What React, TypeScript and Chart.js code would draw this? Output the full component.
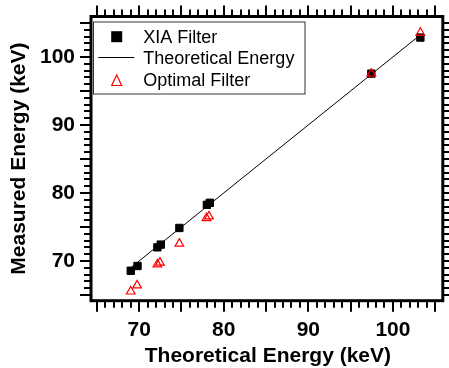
import React, { useEffect, useRef } from 'react';
import { Chart, registerables } from 'chart.js';

Chart.register(...registerables);

const X_TICKS = [70, 80, 90, 100];
const Y_TICKS = [70, 80, 90, 100];
const X_MIN = 64.3;
const X_MAX = 105.9;
const Y_MIN = 64.15;
const Y_MAX = 105.95;

const XIA_X = [69.0, 69.8, 72.15, 72.55, 74.75, 78.0, 78.35, 97.45, 103.25];
const XIA_Y = [68.55, 69.25, 72.0, 72.4, 74.85, 78.25, 78.55, 97.55, 102.85];

const OPT_X = [69.0, 69.75, 72.15, 72.45, 74.75, 77.95, 78.25, 97.45, 103.25];
const OPT_Y = [65.5, 66.4, 69.5, 69.75, 72.55, 76.3, 76.55, 97.55, 103.55];

const THEORY_X = [69.0, 103.2];
const THEORY_Y = [69.0, 103.2];

const LEGEND_LABELS = ['XIA Filter', 'Theoretical Energy', 'Optimal Filter'];
const X_TITLE = 'Theoretical Energy (keV)';
const Y_TITLE = 'Measured Energy (keV)';

const FONT = '"Liberation Sans", Arial, Helvetica, sans-serif';

const toPoints = (xs: number[], ys: number[]) => xs.map((x, i) => ({ x, y: ys[i] }));

const zeroPad = (axis: any) => {
  axis.paddingTop = 0;
  axis.paddingBottom = 0;
  axis.paddingLeft = 0;
  axis.paddingRight = 0;
};

const framePlugin = {
  id: 'frameTicksLegend',
  afterDraw(chart: any) {
    const { ctx, chartArea } = chart;
    const { left, right, top, bottom } = chartArea;
    const xs = chart.scales.x;
    const ys = chart.scales.y;
    ctx.save();
    ctx.strokeStyle = '#000';
    // ticks
    ctx.lineWidth = 2;
    ctx.beginPath();
    for (let v = Math.ceil(X_MIN); v <= Math.floor(X_MAX); v++) {
      const len = v % 5 === 0 ? 11 : 7;
      const px = Math.round(xs.getPixelForValue(v));
      ctx.moveTo(px, bottom);
      ctx.lineTo(px, bottom + len);
      ctx.moveTo(px, top);
      ctx.lineTo(px, top - len);
    }
    for (let v = Math.ceil(Y_MIN); v <= Math.floor(Y_MAX); v++) {
      const len = v % 5 === 0 ? 11 : 7;
      const py = Math.round(ys.getPixelForValue(v));
      ctx.moveTo(left, py);
      ctx.lineTo(left - len, py);
      ctx.moveTo(right, py);
      ctx.lineTo(right + len, py);
    }
    ctx.stroke();
    // frame
    ctx.lineWidth = 3;
    ctx.strokeRect(left, top, right - left, bottom - top);

    // legend
    const lx = 93.5, ly = 22, lw = 211.5, lh = 72;
    ctx.fillStyle = '#fff';
    ctx.fillRect(lx, ly, lw, lh);
    ctx.lineWidth = 1;
    ctx.strokeStyle = '#333';
    ctx.strokeRect(lx, ly, lw, lh);
    const symX = 116.7;
    const textX = 143.3;
    ctx.fillStyle = '#000';
    ctx.fillRect(symX - 5.5, 31.2, 11, 11);
    ctx.strokeStyle = '#000';
    ctx.beginPath();
    ctx.moveTo(98.3, 57.5);
    ctx.lineTo(134.3, 57.5);
    ctx.stroke();
    ctx.strokeStyle = '#ff0000';
    ctx.lineWidth = 1.2;
    ctx.beginPath();
    ctx.moveTo(symX, 75);
    ctx.lineTo(symX + 5, 85.5);
    ctx.lineTo(symX - 5, 85.5);
    ctx.closePath();
    ctx.stroke();
    ctx.fillStyle = '#000';
    ctx.font = `18px ${FONT}`;
    ctx.textAlign = 'left';
    ctx.textBaseline = 'alphabetic';
    ctx.fillText(LEGEND_LABELS[0], textX, 42.5);
    ctx.fillText(LEGEND_LABELS[1], textX, 64);
    ctx.fillText(LEGEND_LABELS[2], textX, 85.7);

    // axis titles
    ctx.font = `bold 21px ${FONT}`;
    ctx.textAlign = 'center';
    ctx.fillText(X_TITLE, (left + right) / 2 + 1, 361.5);
    ctx.translate(25, (top + bottom) / 2);
    ctx.rotate(-Math.PI / 2);
    ctx.fillText(Y_TITLE, 0, 0);
    ctx.restore();
  },
};

export default function App() {
  const ref = useRef<HTMLCanvasElement | null>(null);
  useEffect(() => {
    if (!ref.current) return;
    const chart = new Chart(ref.current, {
      type: 'scatter',
      data: {
        datasets: [
          {
            label: LEGEND_LABELS[2],
            data: toPoints(OPT_X, OPT_Y),
            pointStyle: 'triangle',
            pointRadius: 5,
            pointBackgroundColor: 'rgba(0,0,0,0)',
            pointBorderColor: '#ff0000',
            pointBorderWidth: 1.2,
            order: 0,
          },
          {
            label: LEGEND_LABELS[1],
            data: toPoints(THEORY_X, THEORY_Y),
            showLine: true,
            borderColor: '#000',
            borderWidth: 1,
            pointRadius: 0,
            order: 1,
          },
          {
            label: LEGEND_LABELS[0],
            data: toPoints(XIA_X, XIA_Y),
            pointStyle: 'rect',
            pointRadius: 5.2,
            pointBackgroundColor: '#000',
            pointBorderColor: '#000',
            pointBorderWidth: 1,
            order: 2,
          },
        ],
      },
      options: {
        animation: false,
        responsive: false,
        events: [],
        layout: { padding: { left: 0, top: 16.5, right: 3.5, bottom: 0 } },
        plugins: { legend: { display: false }, tooltip: { enabled: false } },
        scales: {
          x: {
            type: 'linear',
            min: X_MIN,
            max: X_MAX,
            afterBuildTicks: (axis: any) => {
              axis.ticks = X_TICKS.map((v) => ({ value: v }));
            },
            afterFit: (axis: any) => {
              axis.height = 67.3;
              zeroPad(axis);
            },
            grid: { display: false, drawTicks: false, tickLength: 0 },
            border: { display: false },
            ticks: {
              autoSkip: false,
              maxRotation: 0,
              padding: 17,
              color: '#000',
              font: { family: FONT, size: 21, weight: 'bold' },
            },
          },
          y: {
            type: 'linear',
            min: Y_MIN,
            max: Y_MAX,
            afterBuildTicks: (axis: any) => {
              axis.ticks = Y_TICKS.map((v) => ({ value: v }));
            },
            afterFit: (axis: any) => {
              axis.width = 91;
              zeroPad(axis);
            },
            grid: { display: false, drawTicks: false, tickLength: 0 },
            border: { display: false },
            ticks: {
              autoSkip: false,
              padding: 16,
              color: '#000',
              font: { family: FONT, size: 21, weight: 'bold' },
            },
          },
        },
      },
      plugins: [framePlugin],
    } as any);
    return () => chart.destroy();
  }, []);
  return (
    <div style={{ position: 'absolute', left: 0, top: 0, width: 449, height: 368, background: '#fff' }}>
      <canvas ref={ref} width={449} height={368} style={{ display: 'block' }} />
    </div>
  );
}
